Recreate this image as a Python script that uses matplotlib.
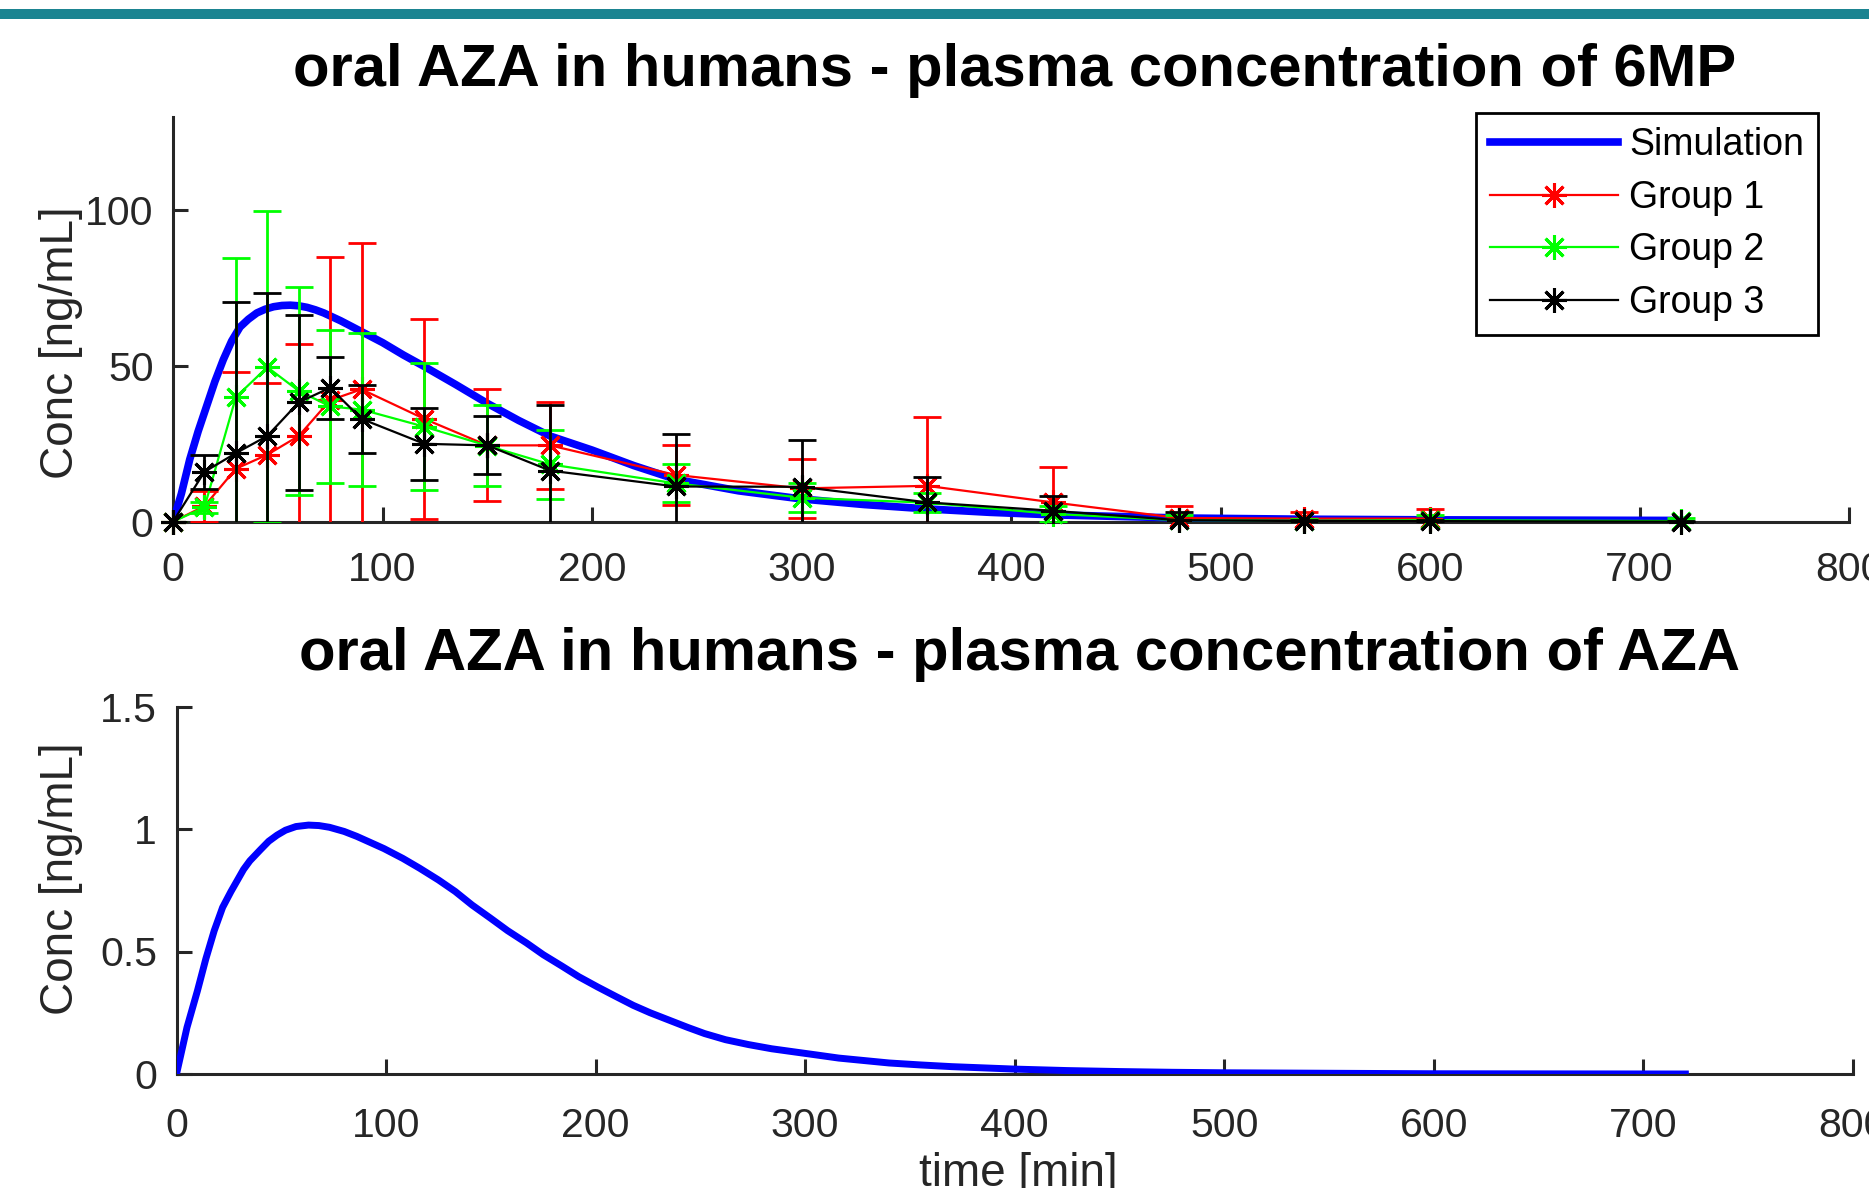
import numpy as np
from matplotlib import pyplot as plt
from matplotlib.lines import Line2D
from matplotlib.patches import Rectangle

# sampling times [min] of the measured groups
times = [0, 15, 30, 45, 60, 75, 90, 120, 150, 180, 240, 300, 360, 420, 480, 540, 600, 720]

group1_mean = [0, 5, 17, 21.5, 27.5, 39, 42.5, 33, 24.5, 24.5, 15, 10.7, 11.5, 6.2, 1.2, 1.0, 1.0, np.nan]
group1_sd = [0, 5, 31, 23, 29.5, 46, 47, 32, 18, 14, 9.5, 9.5, 22, 11.2, 3.9, 2.2, 3.0, np.nan]

group2_mean = [0, 4.6, 40, 49.6, 42, 37, 36, 30.5, 24.4, 18.4, 12.3, 7.7, 6.1, 2.5, 0.5, 0.3, 0.5, 0.2]
group2_sd = [0, 1.7, 44.5, 50, 33.3, 24.5, 24.5, 20.4, 13.1, 11.1, 6.1, 4.6, 3.1, 2.6, 1.6, 0.5, 1.6, 0.9]

group3_mean = [0, 16, 22, 27.5, 38.3, 43, 33, 25, 24.5, 16.4, 11.3, 11.2, 6.2, 3.5, 0.5, 0.2, 0.2, 0]
group3_sd = [0, 5.5, 48.5, 46, 28, 10, 11, 11.6, 9.3, 21, 17, 15, 8, 4.6, 2.5, 0.3, 0.3, 0.2]

# simulated 6MP plasma concentration [ng/mL]
sim_t = [0, 4, 8, 12, 16, 20, 24, 28, 32, 36, 40, 44, 48, 52, 56, 60, 64, 68, 72, 80, 90, 100, 110,
         120, 135, 150, 165, 180, 200, 220, 240, 270, 300, 330, 360, 390, 420, 480, 540, 600, 660, 720]
sim_6mp = [0, 9, 20, 29, 37, 45, 52, 58, 62.5, 65, 67, 68.2, 69, 69.4, 69.5, 69.3, 68.8, 68, 67, 64.5,
           61, 57.5, 53.5, 49.8, 44, 38, 32.5, 27.5, 23, 18, 13.6, 9.9, 7.3, 5.5, 4.1, 3.0, 2.2, 1.2,
           0.8, 0.6, 0.5, 0.4]

# simulated AZA plasma concentration [ng/mL]
aza_t = [0, 5, 10, 14, 18, 22, 26, 29, 32, 35, 40, 44, 48, 52, 57, 63, 68, 73, 80, 86, 92, 99, 108,
         116, 125, 133, 141, 150, 158, 167, 175, 184, 192, 201, 210, 218, 226, 235, 244, 252, 262,
         273, 284, 295, 306, 316, 328, 340, 355, 370, 385, 400, 425, 450, 475, 500, 550, 600, 660, 720]
sim_aza = [0, 0.19, 0.34, 0.47, 0.585, 0.68, 0.745, 0.79, 0.835, 0.87, 0.915, 0.95, 0.975, 0.995,
           1.01, 1.016, 1.014, 1.007, 0.99, 0.97, 0.947, 0.92, 0.88, 0.84, 0.792, 0.745, 0.69, 0.635,
           0.585, 0.535, 0.487, 0.44, 0.397, 0.355, 0.315, 0.28, 0.25, 0.22, 0.19, 0.165, 0.14, 0.12,
           0.103, 0.09, 0.077, 0.065, 0.055, 0.045, 0.037, 0.03, 0.025, 0.02, 0.014, 0.01, 0.007,
           0.005, 0.003, 0.001, 0.0005, 0]

groups = [
    ('Group 1', group1_mean, group1_sd, (1, 0, 0)),
    ('Group 2', group2_mean, group2_sd, (0, 1, 0)),
    ('Group 3', group3_mean, group3_sd, (0, 0, 0)),
]

W, H = 1869, 1188
FONT = 'Liberation Sans'
GREY = '#262626'
STAR = (8, 2, 0)

plt.rcParams['font.family'] = FONT


def px_axes(fig, left, top, right, bottom):
    return fig.add_axes([left / W, 1 - bottom / H, (right - left) / W, (bottom - top) / H])


def style_axes(ax, xpad):
    for side in ('top', 'right'):
        ax.spines[side].set_visible(False)
    for side in ('left', 'bottom'):
        ax.spines[side].set_linewidth(2.2)
        ax.spines[side].set_color(GREY)
    ax.tick_params(direction='in', length=11, width=2.2, colors=GREY, labelsize=29.5)
    ax.tick_params(axis='y', pad=14)
    ax.tick_params(axis='x', pad=xpad)
    ax.set_xlim(0, 800)
    ax.set_xticks(range(0, 801, 100))


fig = plt.figure(figsize=(W / 100, H / 100), dpi=100)

# teal band at the very top
fig.patches.append(Rectangle((0, 1 - 19 / H), 1, 10 / H, transform=fig.transFigure,
                             facecolor='#1b8491', edgecolor='none'))

# --- 6MP panel ---
ax1 = px_axes(fig, 173, 116.7, 1849, 521.7)
style_axes(ax1, 21)
ax1.set_ylim(0, 130)
ax1.set_yticks([0, 50, 100])

ax1.plot(sim_t, sim_6mp, color=(0, 0, 1), lw=5.5, zorder=3)
for i, (name, mean, sd, color) in enumerate(groups):
    z = 4 + i
    ax1.errorbar(times, mean, yerr=sd, fmt='none', ecolor=color, elinewidth=2,
                 capsize=10, capthick=2, zorder=z)
    ax1.plot(times, mean, color=color, lw=1.6, marker=STAR, ms=18, mew=2.2,
             clip_on=False, zorder=z + 0.5)

handles = [Line2D([], [], color=(0, 0, 1), lw=5.5)]
for name, mean, sd, color in groups:
    handles.append(Line2D([], [], color=color, lw=1.6, marker=STAR, ms=18, mew=2.2))
leg = ax1.legend(handles, ['Simulation'] + [g[0] for g in groups],
                 loc='upper right', bbox_to_anchor=(1818 / W, 1 - 113 / H),
                 bbox_transform=fig.transFigure, borderaxespad=0, fontsize=27,
                 handlelength=3.4, handletextpad=0.3, labelspacing=0.44, borderpad=0.38,
                 fancybox=False, framealpha=1, edgecolor='black')
leg.get_frame().set_linewidth(2)

fig.text(1015 / W, 1 - 86 / H, 'oral AZA in humans - plasma concentration of 6MP',
         ha='center', va='baseline', fontsize=43, fontweight='bold')
fig.text(61 / W, 1 - 343 / H, 'Conc [ng/mL]', rotation=90, ha='center', va='center',
         fontsize=33, color=GREY)

# --- AZA panel ---
ax2 = px_axes(fig, 176.5, 706.5, 1853, 1074)
style_axes(ax2, 24)
ax2.set_ylim(0, 1.5)
ax2.set_yticks([0, 0.5, 1, 1.5])
ax2.set_yticklabels(['0', '0.5', '1', '1.5'])
ax2.plot(aza_t, sim_aza, color=(0, 0, 1), lw=5, zorder=3)

fig.text(1019 / W, 1 - 670 / H, 'oral AZA in humans - plasma concentration of AZA',
         ha='center', va='baseline', fontsize=43, fontweight='bold')
fig.text(61 / W, 1 - 879 / H, 'Conc [ng/mL]', rotation=90, ha='center', va='center',
         fontsize=33, color=GREY)
fig.text(1018 / W, 1 - 1186 / H, 'time [min]', ha='center', va='baseline',
         fontsize=33, color=GREY)

fig.savefig('out.png', dpi=100)
